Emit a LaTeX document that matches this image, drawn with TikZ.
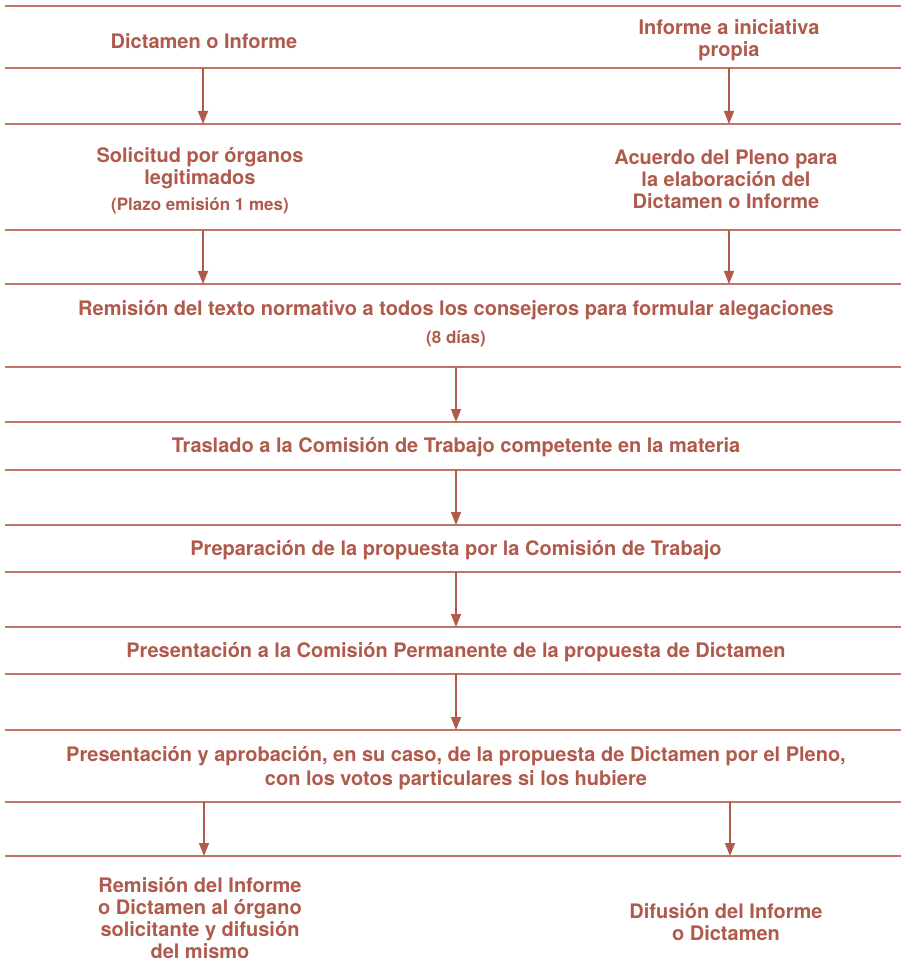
\documentclass[tikz,border=0pt]{standalone}
\usepackage{fontspec}
\setmainfont{TeX Gyre Heros}
\usepackage{xcolor}
\usepackage{tikz}
\usetikzlibrary{arrows.meta}
\definecolor{brick}{HTML}{B05A4B}
\definecolor{rulec}{HTML}{C27565}
\newcommand{\smallnote}{\fontsize{17}{20}\selectfont}
\tikzset{
  rule/.style={draw=rulec, line width=1.2pt},
  flow/.style={draw=brick, line width=1.5pt, -{Triangle[length=13pt, width=10pt]}},
  lbl/.style={text=brick, font=\bfseries\fontsize{20}{22}\selectfont, align=center, inner sep=0pt}
}

\begin{document}
\begin{tikzpicture}[x=1pt, y=-1pt]
  \useasboundingbox (0,0) rectangle (901,973);

  \foreach \y in {6,68,124,230,284,367,422,470,525,572,627,674,730,802,856}
    \draw[rule] (5,\y) -- (901,\y);

  \coordinate (L1) at (203,68);  \coordinate (L2) at (203,124);
  \coordinate (R1) at (729,68);  \coordinate (R2) at (729,124);
  \coordinate (L3) at (203,230); \coordinate (L4) at (203,284);
  \coordinate (R3) at (729,230); \coordinate (R4) at (729,284);
  \coordinate (C1) at (456,367); \coordinate (C2) at (456,422);
  \coordinate (C3) at (456,470); \coordinate (C4) at (456,525);
  \coordinate (C5) at (456,572); \coordinate (C6) at (456,627);
  \coordinate (C7) at (456,674); \coordinate (C8) at (456,730);
  \coordinate (L5) at (204,802); \coordinate (L6) at (204,856);
  \coordinate (R5) at (730,802); \coordinate (R6) at (730,856);

  \node[lbl] (dictamen) at (204,41) {Dictamen o Informe};
  \node[lbl] (iniciativa) at (729,40) {Informe a iniciativa\\propia};
  \node[lbl] (solicitud) at (200,181) {Solicitud por órganos\\legitimados\\[4pt]{\smallnote (Plazo emisión 1 mes)}};
  \node[lbl] (acuerdo) at (726,179) {Acuerdo del Pleno para\\la elaboración del\\Dictamen o Informe};
  \node[lbl] (remision) at (456,324) {Remisión del texto normativo a todos los consejeros para formular alegaciones\\[6pt]{\smallnote (8 días)}};
  \node[lbl] (traslado) at (456,447) {Traslado a la Comisión de Trabajo competente en la materia};
  \node[lbl] (preparacion) at (456,550) {Preparación de la propuesta por la Comisión de Trabajo};
  \node[lbl] (permanente) at (456,652) {Presentación a la Comisión Permanente de la propuesta de Dictamen};
  \node[lbl] (pleno) at (456,768) {Presentación y aprobación, en su caso, de la propuesta de Dictamen por el Pleno,\\[2pt]con los votos particulares si los hubiere};
  \node[lbl] (envio) at (200,918) {Remisión del Informe\\o Dictamen al órgano\\solicitante y difusión\\del mismo};
  \node[lbl] (difusion) at (726,922) {Difusión del Informe\\o Dictamen};

  \draw[flow] (L1) -- (L2);
  \draw[flow] (R1) -- (R2);
  \draw[flow] (L3) -- (L4);
  \draw[flow] (R3) -- (R4);
  \draw[flow] (C1) -- (C2);
  \draw[flow] (C3) -- (C4);
  \draw[flow] (C5) -- (C6);
  \draw[flow] (C7) -- (C8);
  \draw[flow] (L5) -- (L6);
  \draw[flow] (R5) -- (R6);
\end{tikzpicture}
\end{document}
